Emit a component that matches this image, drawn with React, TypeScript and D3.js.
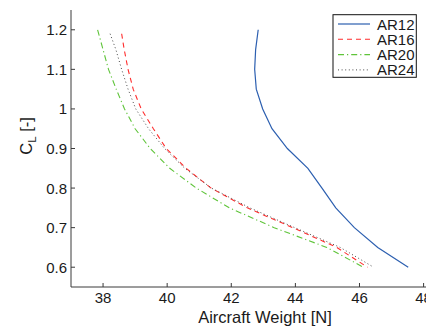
import React from "react";
import * as d3 from "d3";

// Lift coefficient vs. aircraft weight for four aspect ratios
const clAR12 = [1.2, 1.15, 1.1, 1.05, 1.0, 0.95, 0.9, 0.85, 0.8, 0.75, 0.7, 0.65, 0.6];
const weightAR12 = [42.84, 42.76, 42.73, 42.78, 42.98, 43.27, 43.75, 44.39, 44.83, 45.26, 45.84, 46.57, 47.52];

const clAR16 = [1.19, 1.15, 1.1, 1.05, 1.0, 0.95, 0.9, 0.85, 0.8, 0.75, 0.7, 0.65, 0.6];
const weightAR16 = [38.58, 38.66, 38.78, 38.94, 39.19, 39.57, 39.97, 40.59, 41.37, 42.5, 43.92, 45.29, 46.25];

const clAR20 = [1.2, 1.15, 1.1, 1.05, 1.0, 0.95, 0.9, 0.85, 0.8, 0.75, 0.7, 0.65, 0.6];
const weightAR20 = [37.83, 38.0, 38.17, 38.41, 38.67, 39.0, 39.47, 40.08, 40.91, 41.94, 43.34, 44.98, 46.12];

const clAR24 = [1.19, 1.15, 1.1, 1.05, 1.0, 0.95, 0.9, 0.85, 0.8, 0.75, 0.7, 0.65, 0.6];
const weightAR24 = [38.22, 38.4, 38.58, 38.78, 39.02, 39.42, 39.92, 40.55, 41.38, 42.58, 43.98, 45.4, 46.44];

const seriesNames = ["AR12", "AR16", "AR20", "AR24"];

const xTicks = [38, 40, 42, 44, 46, 48];
const yTicks = [0.6, 0.7, 0.8, 0.9, 1.0, 1.1, 1.2];
const yTickLabels = ["0.6", "0.7", "0.8", "0.9", "1", "1.1", "1.2"];

const W = 426;
const H = 332;
const FONT = "'Liberation Sans', Arial, Helvetica, sans-serif";

export default function App() {
  const x = d3.scaleLinear().domain([37, 48]).range([71, 423.6]);
  const y = d3.scaleLinear().domain([0.55, 1.25]).range([287, 10]);

  const styles = [
    { color: "#2c5fb0", dash: "none", width: 1.2 },
    { color: "#ff2d2d", dash: "5,4", width: 1.1 },
    { color: "#5fc43a", dash: "6,3,1.2,3", width: 1.1 },
    { color: "#4a4a4a", dash: "1,2.6", width: 1.0 },
  ];

  const series = [
    { cl: clAR12, w: weightAR12 },
    { cl: clAR16, w: weightAR16 },
    { cl: clAR20, w: weightAR20 },
    { cl: clAR24, w: weightAR24 },
  ];

  const line = d3
    .line<[number, number]>()
    .x((d) => x(d[0]))
    .y((d) => y(d[1]));

  const x0 = x.range()[0];
  const yBottom = y.range()[0];
  const yTop = y.range()[1];
  const axisColor = "#3a3a3a";
  const textColor = "#1a1a1a";

  const legX = 333;
  const legY = 14.7;
  const legW = 83.3;
  const legH = 62.6;
  const rowGap = 15.3;

  return (
    <svg
      width={W}
      height={H}
      style={{ position: "absolute", left: 0, top: 0, background: "#fff" }}
      fontFamily={FONT}
    >
      <rect x={0} y={0} width={W} height={H} fill="#fff" />

      {/* axes */}
      <line x1={x0} y1={yTop} x2={x0} y2={yBottom} stroke={axisColor} strokeWidth={1} />
      <line x1={x0} y1={yBottom} x2={W} y2={yBottom} stroke={axisColor} strokeWidth={1} />

      {yTicks.map((t, i) => (
        <g key={"y" + t}>
          <line x1={x0} x2={x0 + 4} y1={y(t)} y2={y(t)} stroke={axisColor} strokeWidth={1} />
          <text
            x={x0 - 4}
            y={y(t)}
            textAnchor="end"
            dominantBaseline="central"
            fontSize={15}
            fill={textColor}
          >
            {yTickLabels[i]}
          </text>
        </g>
      ))}

      {xTicks.map((t) => (
        <g key={"x" + t}>
          <line x1={x(t)} x2={x(t)} y1={yBottom} y2={yBottom - 4} stroke={axisColor} strokeWidth={1} />
          <text x={x(t)} y={303} textAnchor="middle" fontSize={15} fill={textColor}>
            {t}
          </text>
        </g>
      ))}

      {/* axis titles */}
      <text x={265} y={323} textAnchor="middle" fontSize={16.5} fill={textColor}>
        Aircraft Weight [N]
      </text>
      <text
        transform="translate(32,136) rotate(-90)"
        textAnchor="middle"
        fontSize={16.5}
        fill={textColor}
      >
        C
        <tspan fontSize={11.5} dy={4}>
          L
        </tspan>
        <tspan dy={-4}> [-]</tspan>
      </text>

      {/* curves */}
      {series.map((s, i) => (
        <path
          key={seriesNames[i]}
          d={line(s.w.map((v, j) => [v, s.cl[j]] as [number, number])) || ""}
          fill="none"
          stroke={styles[i].color}
          strokeWidth={styles[i].width}
          strokeDasharray={styles[i].dash}
        />
      ))}

      {/* legend */}
      <rect x={legX} y={legY} width={legW} height={legH} fill="#fff" stroke="#111" strokeWidth={1} />
      {seriesNames.map((name, i) => {
        const cy = legY + 9.3 + i * rowGap;
        return (
          <g key={"leg" + name}>
            <line
              x1={338}
              x2={370}
              y1={cy}
              y2={cy}
              stroke={styles[i].color}
              strokeWidth={styles[i].width}
              strokeDasharray={styles[i].dash}
            />
            <text x={377} y={cy} dominantBaseline="central" fontSize={15} fill={textColor}>
              {name}
            </text>
          </g>
        );
      })}
    </svg>
  );
}
